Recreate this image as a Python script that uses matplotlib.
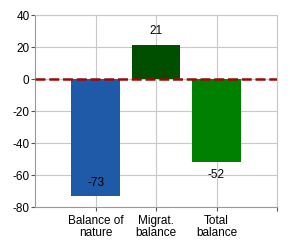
import matplotlib
matplotlib.use("Agg")
import matplotlib.pyplot as plt

categories = ["Balance of\nnature", "Migrat.\nbalance", "Total\nbalance"]
values = [-73, 21, -52]
bar_colors = ["#1f5aa8", "#004f00", "#008000"]
label_pos = [-65, 30, -60]
yticks = [-80, -60, -40, -20, 0, 20, 40]

plt.rcParams["font.family"] = ["Liberation Sans", "DejaVu Sans"]
plt.rcParams["axes.unicode_minus"] = False

fig = plt.figure(figsize=(2.9, 2.5), dpi=100)
ax = fig.add_axes([35 / 290, 43 / 250, 242 / 290, 192 / 250])

x = list(range(len(categories)))
ax.bar(x, values, width=0.8, color=bar_colors, zorder=2)
for xi, v, ly in zip(x, values, label_pos):
    ax.text(xi, ly, str(v), ha="center", va="center", fontsize=8.5, color="black", zorder=4)

ax.axhline(0, color="#990a0a", linestyle=(0, (4, 1.5)), linewidth=1.8, zorder=3)

ax.set_xlim(-1, 3)
ax.set_ylim(-80, 40)
ax.set_yticks(yticks)
ax.set_xticks([0, 1, 2, 3])
ax.set_xticklabels(categories + [""], fontsize=8.5, linespacing=1.0)
ax.tick_params(axis="y", labelsize=8.5, length=3, color="#555555", pad=1)
ax.tick_params(axis="x", length=3, color="#555555", pad=3)
ax.grid(True, color="#c8c8c8", linewidth=0.8, zorder=0)
for side in ["top", "right"]:
    ax.spines[side].set_color("#c8c8c8")
for side in ["left", "bottom"]:
    ax.spines[side].set_color("#999999")

fig.savefig("out.png", dpi=100)
